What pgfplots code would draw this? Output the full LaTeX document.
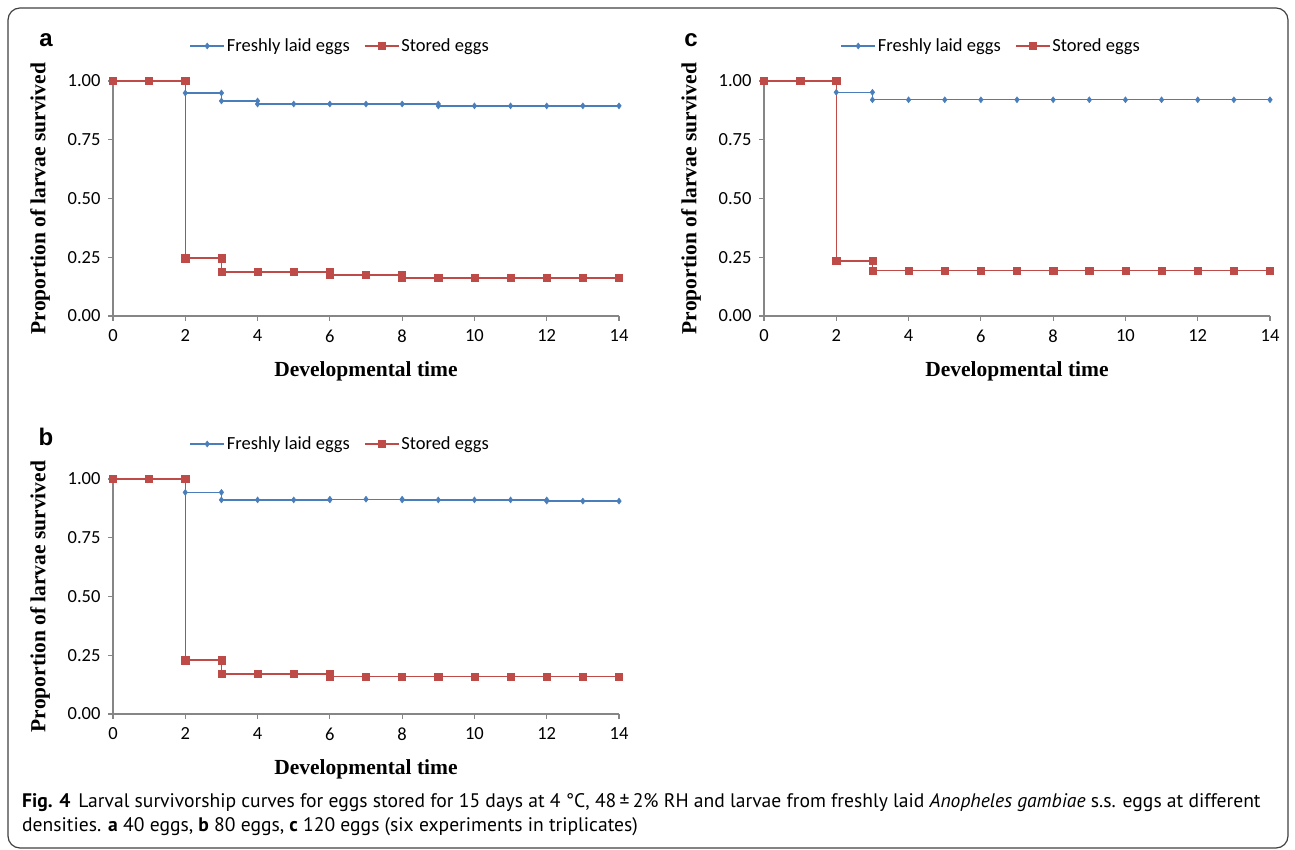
\documentclass[border=0pt]{standalone}
\usepackage{pgfplots}
\pgfplotsset{compat=1.18}
\usepackage{fontspec}
\setmainfont{Carlito}
\newfontfamily\timesfont{Liberation Serif}
\newfontfamily\arialfont{Liberation Sans}
\newfontfamily\capfont{PT Sans}
\definecolor{fblue}{HTML}{4A7EBB}
\definecolor{sred}{HTML}{BE4B48}
\definecolor{axgray}{HTML}{868686}
\pgfplotsset{
  panel/.style={
    scale only axis, width=506pt, height=235pt,
    xmin=0, xmax=14, ymin=0, ymax=1,
    axis lines=left, axis line style={-, axgray, line width=1.3pt},
    tick style={axgray, line width=1.1pt}, tick align=outside, major tick length=5pt,
    xtick={0,2,...,14}, ytick={0,0.25,0.5,0.75,1},
    /pgf/number format/assume math mode=true,
    ticklabel style={font=\fontsize{18.5}{22}\selectfont},
    yticklabel style={xshift=-4pt, /pgf/number format/.cd, fixed, fixed zerofill, precision=2},
    xticklabel style={yshift=-5pt},
    clip=false,
    xlabel={Developmental time},
    ylabel={Proportion of larvae survived},
    xlabel style={font=\timesfont\bfseries\fontsize{21.5}{25}\selectfont, at={(axis description cs:0.5,-0.234)}, anchor=center},
    ylabel style={font=\timesfont\bfseries\fontsize{21.5}{25}\selectfont, at={(axis description cs:-0.144,0.5)}, anchor=center},
    legend columns=2,
    legend style={draw=none, fill=none, at={(axis description cs:0.449,1.149)}, anchor=center,
      font=\fontsize{18.5}{22}\selectfont, /tikz/every even column/.append style={column sep=12pt}},
    legend image code/.code={\draw[#1, mark repeat=2, mark phase=2] plot coordinates {(0pt,0pt) (17pt,0pt) (34pt,0pt)};},
  },
  fresh/.style={color=fblue, line width=1.4pt, mark=diamond*, mark size=3pt, mark options={fill=fblue, draw=fblue, line width=0.5pt}},
  stored/.style={color=sred, line width=1.4pt, mark=square*, mark size=3.6pt, mark options={fill=sred, draw=sred, line width=0.5pt}},
}
\begin{document}
\begin{tikzpicture}
\useasboundingbox (0pt,0pt) rectangle (1295pt,850pt);
\draw[rounded corners=12pt, line width=1.2pt, black!75] (8pt,2pt) rectangle (1288pt,842pt);

% Panel a
\begin{axis}[panel, at={(113pt,534pt)}, anchor=south west]
\addplot[fresh] table {
x y
0 1
1 1
2 1
2 0.949
3 0.949
3 0.915
4 0.915
4 0.902
5 0.902
6 0.902
7 0.902
8 0.902
9 0.902
9 0.894
10 0.894
11 0.894
12 0.894
13 0.894
14 0.894
};
\addlegendentry{Freshly laid eggs}
\addplot[stored] table {
x y
0 1
1 1
2 1
2 0.246
3 0.246
3 0.187
4 0.187
5 0.187
6 0.187
6 0.174
7 0.174
8 0.174
8 0.162
9 0.162
10 0.162
11 0.162
12 0.162
13 0.162
14 0.162
};
\addlegendentry{Stored eggs}
\end{axis}

% Panel c
\begin{axis}[panel, at={(764pt,534pt)}, anchor=south west]
\addplot[fresh] table {
x y
0 1
1 1
2 1
2 0.952
3 0.952
3 0.920
4 0.920
5 0.920
6 0.920
7 0.920
8 0.920
9 0.920
10 0.920
11 0.920
12 0.920
13 0.920
14 0.920
};
\addlegendentry{Freshly laid eggs}
\addplot[stored] table {
x y
0 1
1 1
2 1
2 0.234
3 0.234
3 0.193
4 0.193
5 0.193
6 0.193
7 0.193
8 0.193
9 0.193
10 0.193
11 0.193
12 0.193
13 0.193
14 0.193
};
\addlegendentry{Stored eggs}
\end{axis}

% Panel b
\begin{axis}[panel, at={(113pt,136pt)}, anchor=south west]
\addplot[fresh] table {
x y
0 1
1 1
2 1
2 0.943
3 0.943
3 0.911
4 0.911
5 0.911
6 0.911
6 0.914
7 0.914
8 0.914
8 0.911
9 0.911
10 0.911
11 0.911
12 0.911
12 0.906
13 0.906
14 0.906
};
\addlegendentry{Freshly laid eggs}
\addplot[stored] table {
x y
0 1
1 1
2 1
2 0.229
3 0.229
3 0.170
4 0.170
5 0.170
6 0.170
6 0.159
7 0.159
8 0.159
9 0.159
10 0.159
11 0.159
12 0.159
13 0.159
14 0.159
};
\addlegendentry{Stored eggs}
\end{axis}

% panel letters
\node[font=\arialfont\bfseries\fontsize{24}{28}\selectfont] at (46pt,810pt) {a};
\node[font=\arialfont\bfseries\fontsize{24}{28}\selectfont] at (691pt,810pt) {c};
\node[font=\arialfont\bfseries\fontsize{24}{28}\selectfont] at (46pt,413pt) {b};

% caption
\node[anchor=west, font=\capfont\fontsize{19.6}{23}\selectfont, inner sep=0pt] at (22pt,47pt)
  {\textbf{Fig. 4}\hspace{8pt}Larval survivorship curves for eggs stored for 15 days at 4 °C, 48\,±\,2\% RH and larvae from freshly laid \textit{Anopheles gambiae} s.s. eggs at different};
\node[anchor=west, font=\capfont\fontsize{19.6}{23}\selectfont, inner sep=0pt] at (22pt,23pt)
  {densities. \textbf{a} 40 eggs, \textbf{b} 80 eggs, \textbf{c} 120 eggs (six experiments in triplicates)};
\end{tikzpicture}
\end{document}
